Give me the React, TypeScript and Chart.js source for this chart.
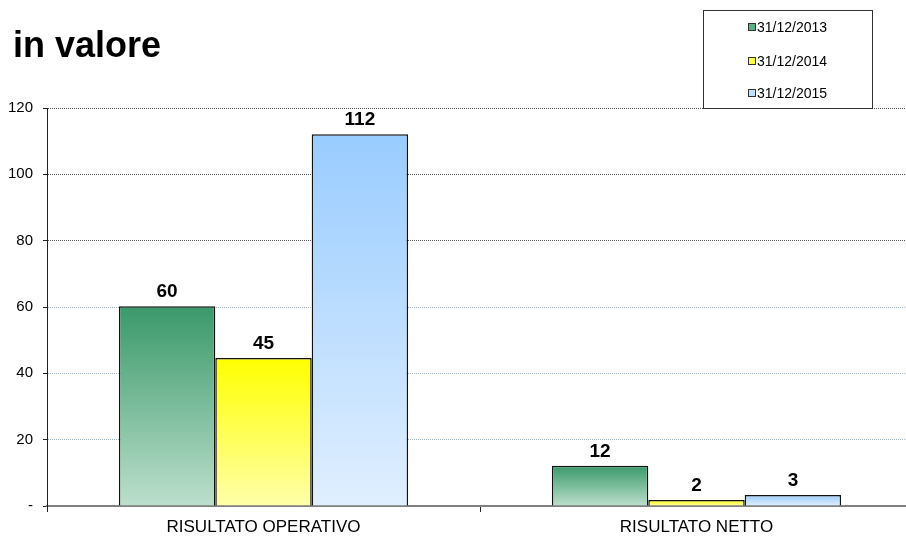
import React, { useEffect, useRef } from "react";
import { Chart, registerables } from "chart.js";

Chart.register(...registerables);

const chartTitle = "in valore";
const categories = ["RISULTATO OPERATIVO", "RISULTATO NETTO"];
const seriesLabels = ["31/12/2013", "31/12/2014", "31/12/2015"];
const values2013 = [60.2, 12.1];
const values2014 = [44.6, 1.8];
const values2015 = [112.1, 3.3];
const yMin = 0;
const yMax = 120;
const yStep = 20;

const gradTop = ["#3a996a", "#ffff00", "#99ccff"];
const gradBottom = ["#bcdfcc", "#ffffaa", "#e0efff"];
const legendSwatch = ["#5fae84", "#ffff44", "#c4e0ff"];

const FONT = "'Liberation Sans', Arial, sans-serif";
const CANVAS_W = 913;
const VIEW_W = 906;
const VIEW_H = 536;

function makeGradient(top: string, bottom: string) {
  return (ctx: any) => {
    const chart = ctx.chart;
    const y = chart.scales && chart.scales.y;
    if (ctx.type !== "data" || !y) return top;
    const yTop = y.getPixelForValue(ctx.raw);
    const yBase = y.getPixelForValue(0);
    if (!isFinite(yTop) || !isFinite(yBase) || yTop === yBase) return top;
    const g = chart.ctx.createLinearGradient(0, yTop, 0, yBase);
    g.addColorStop(0, top);
    g.addColorStop(1, bottom);
    return g;
  };
}

const decorPlugin = {
  id: "decor",
  afterDatasetsDraw(chart: any) {
    const c = chart.ctx;
    c.save();
    c.fillStyle = "#000";
    c.font = `bold 19px ${FONT}`;
    c.textAlign = "center";
    c.textBaseline = "alphabetic";
    chart.data.datasets.forEach((ds: any, di: number) => {
      const meta = chart.getDatasetMeta(di);
      meta.data.forEach((el: any, i: number) => {
        c.fillText(String(Math.round(ds.data[i])), el.x, el.y - 9);
      });
    });
    c.restore();
  },
  afterDraw(chart: any) {
    const c = chart.ctx;
    c.save();
    c.fillStyle = "#000";
    c.font = `bold 36px ${FONT}`;
    c.textAlign = "left";
    c.textBaseline = "alphabetic";
    c.fillText(chartTitle, 13, 57);
    c.fillStyle = "#fff";
    c.fillRect(703, 10, 169, 99);
    c.strokeStyle = "#333";
    c.lineWidth = 1;
    c.strokeRect(703.5, 10.5, 169, 98);
    const rows = [27, 61, 93];
    c.font = `14px ${FONT}`;
    c.textBaseline = "middle";
    chart.data.datasets.forEach((ds: any, i: number) => {
      const yy = rows[i];
      c.fillStyle = legendSwatch[i];
      c.fillRect(748, yy - 4, 8, 8);
      c.strokeStyle = "#333";
      c.strokeRect(748.5, yy - 3.5, 7, 7);
      c.fillStyle = "#000";
      c.fillText(ds.label, 757, yy + 1);
    });
    c.restore();
  },
};

export default function App() {
  const ref = useRef<HTMLCanvasElement | null>(null);
  useEffect(() => {
    document.body.style.margin = "0";
    if (!ref.current) return;
    const series = [values2013, values2014, values2015];
    const chart = new Chart(ref.current, {
      type: "bar",
      data: {
        labels: categories,
        datasets: series.map((d, i) => ({
          label: seriesLabels[i],
          data: d,
          backgroundColor: makeGradient(gradTop[i], gradBottom[i]),
          borderColor: "#111",
          borderWidth: 1.5,
          barPercentage: 1,
          categoryPercentage: 0.668,
        })),
      },
      options: {
        animation: false,
        responsive: false,
        maintainAspectRatio: false,
        layout: { padding: { top: 108, left: 0, right: 0, bottom: 0 } },
        plugins: {
          legend: { display: false },
          title: { display: false },
          tooltip: { enabled: false },
        },
        scales: {
          x: {
            grid: {
              offset: true,
              drawOnChartArea: false,
              drawTicks: true,
              tickLength: 6,
              tickColor: "#222",
              tickWidth: 1,
            },
            border: { display: true, color: "#808080", width: 2 },
            ticks: {
              color: "#000",
              font: { family: FONT, size: 17 },
              padding: 5,
            },
            afterFit: (s: any) => {
              s.height = 30;
            },
          },
          y: {
            min: yMin,
            max: yMax,
            ticks: {
              stepSize: yStep,
              color: "#000",
              font: { family: FONT, size: 15 },
              padding: 10,
              callback: (v: any) => (Number(v) === 0 ? "-" : String(v)),
            },
            grid: {
              color: (ctx: any) =>
                ctx.tick && ctx.tick.value >= 80 ? "#555" : "#9fb0c2",
              lineWidth: 1,
              tickLength: 4,
              tickColor: "#222",
              tickBorderDash: [],
            },
            border: { display: true, color: "#222", width: 1, dash: [1, 1] },
            afterFit: (s: any) => {
              s.width = 47;
            },
          },
        },
      },
      plugins: [decorPlugin],
    });
    return () => chart.destroy();
  }, []);
  return (
    <div style={{ width: VIEW_W, height: VIEW_H, overflow: "hidden" }}>
      <canvas
        ref={ref}
        width={CANVAS_W}
        height={VIEW_H}
        style={{ width: CANVAS_W, height: VIEW_H, display: "block" }}
      />
    </div>
  );
}
